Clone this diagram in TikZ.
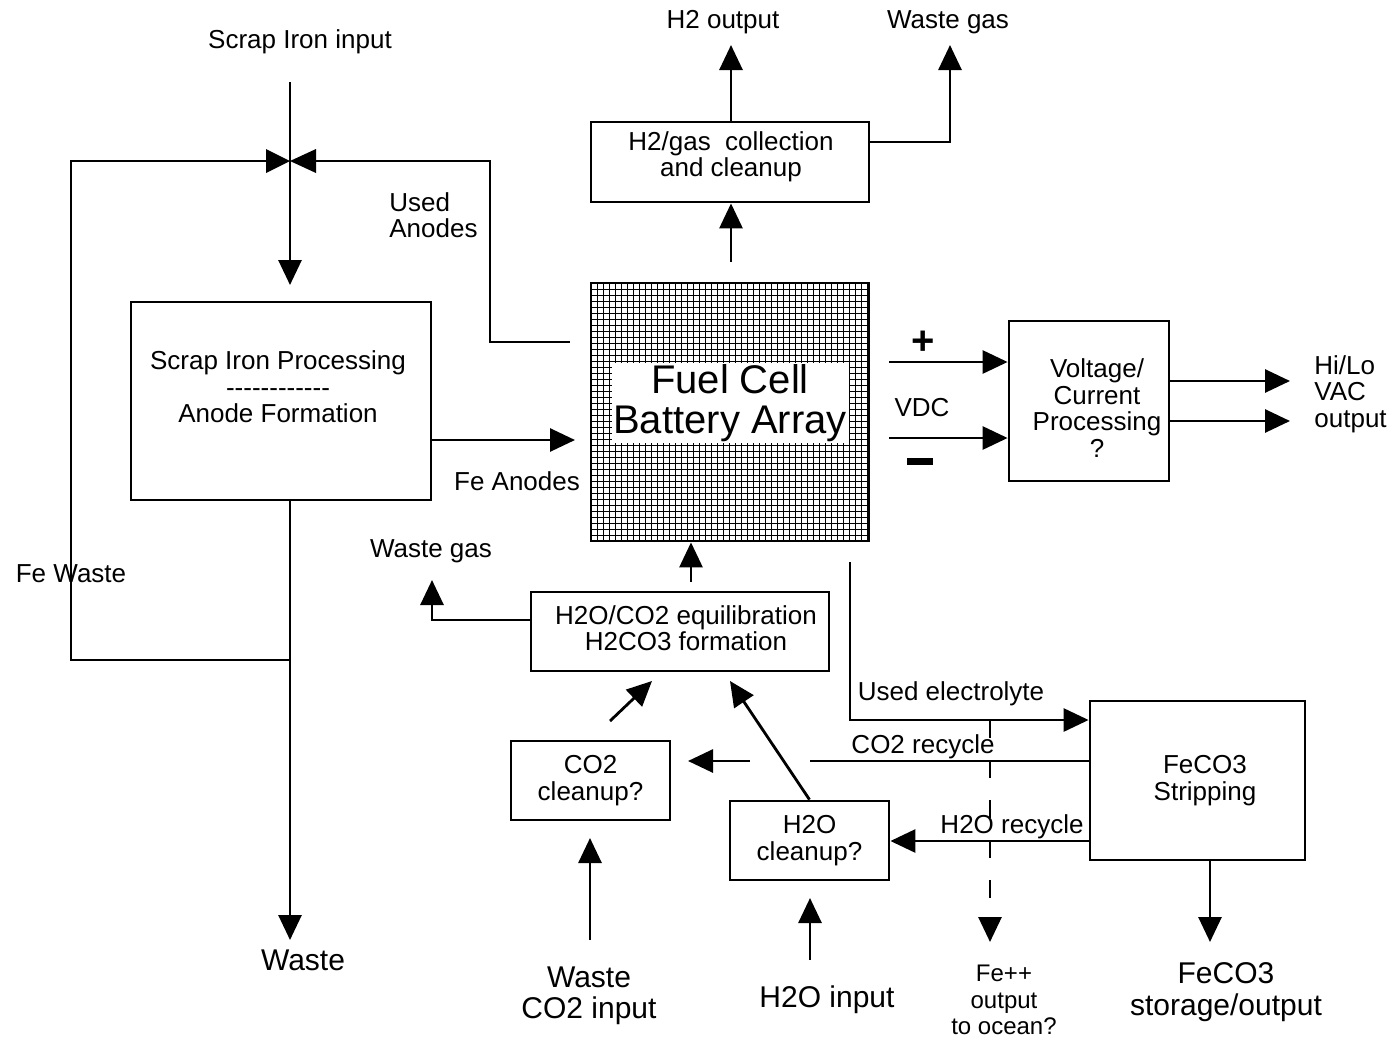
\documentclass[tikz,border=0pt]{standalone}
\usepackage{fontspec}
\setmainfont{Liberation Sans}
\usetikzlibrary{arrows.meta}
\newcommand\fsA{\fontsize{26}{26.5}\selectfont}
\newcommand\fsB{\fontsize{30}{31.5}\selectfont}
\newcommand\fsC{\fontsize{24}{26.5}\selectfont}
\newcommand\fsD{\fontsize{40}{40}\selectfont}
\begin{document}
\begin{tikzpicture}[x=1pt,y=-1pt,line width=2.8pt,
  box/.style={draw,line width=2.8pt,inner sep=0pt,align=center,font=\fsA},
  txt/.style={inner sep=0pt,align=center,font=\fsA},
  big/.style={inner sep=0pt,align=center,font=\fsB},
  arr/.style={-{Triangle[length=25pt,width=23pt]}},
  gridline/.style={line width=0.9pt}]
\useasboundingbox (0,0) rectangle (1395,1039);
\fill[white] (0,0) rectangle (1395,1039);

% ---- boxes ----
\node[box,minimum width=300pt,minimum height=198pt] (proc) at (281,401) {};
\node[txt] (proctxt) at (278,387) {Scrap Iron Processing\\-{}-{}-{}-{}-{}-{}-{}-{}-{}-{}-{}-\\Anode Formation};
\node[box,minimum width=278pt,minimum height=258pt] (fc) at (730,412) {};
\foreach \gx in {597,603,...,867} \draw[gridline] (\gx,283) -- (\gx,541);
\foreach \gy in {289,295,...,539} \draw[gridline] (591,\gy) -- (869,\gy);
\draw (591,283) rectangle (869,541);
\node[fill=white,inner sep=0pt,minimum width=237pt,minimum height=80pt,align=center,font=\fsD] (fctxt) at (730,403) {Fuel Cell\\Battery Array};
\node[box,minimum width=278pt,minimum height=80pt] (h2box) at (730,162) {};
\node[txt] (h2txt) at (731,157) {H2/gas\ \ collection\\and cleanup};
\node[box,minimum width=160pt,minimum height=160pt] (volt) at (1089,401) {};
\node[txt] (volttxt) at (1097,408) {Voltage/\\Current\\Processing\\?};
\node[box,minimum width=298pt,minimum height=79pt] (eq) at (680,631.5) {};
\node[txt] (eqtxt) at (686,628) {H2O/CO2 equilibration\\H2CO3 formation};
\node[box,minimum width=159pt,minimum height=79pt] (co2c) at (590.5,780.5) {CO2\\cleanup?};
\node[box,minimum width=159pt,minimum height=79pt] (h2oc) at (809.5,840.5) {H2O\\cleanup?};
\node[box,minimum width=215pt,minimum height=159pt] (strip) at (1197.5,780.5) {};
\node[txt] (striptxt) at (1205,780.5) {FeCO3\\Stripping};

% ---- labels ----
\node[txt] (lsin) at (300,42) {Scrap Iron input};
\node[txt,align=left,anchor=west] (lua) at (388,215) {Used\\Anodes};
\node[txt] (lfea) at (517,481) {Fe Anodes};
\node[txt] (lfew) at (71,574) {Fe Waste};
\node[big] (lwaste) at (303,960) {Waste};
\node[txt] (lh2o) at (723,22) {H2 output};
\node[txt] (lwg1) at (948,22) {Waste gas};
\node[inner sep=0pt,font=\fsD\bfseries] (lplus) at (923,343) {+};
\node[inner sep=0pt] (lminus) at (920,461) {\rule{26pt}{7pt}};
\node[txt] (lvdc) at (922,408) {VDC};
\node[txt,align=left,anchor=west] (lvac) at (1313,394) {Hi/Lo\\VAC\\output};
\node[txt] (lwg2) at (431,551) {Waste gas};
\node[txt] (lue) at (951,694) {Used electrolyte};
\node[txt] (lco2r) at (923,747) {CO2 recycle};
\node[txt] (lh2or) at (1012,827) {H2O recycle};
\node[big] (lco2in) at (589,996) {Waste\\CO2 input};
\node[big] (lh2oin) at (827,1000) {H2O input};
\node[inner sep=0pt,align=center,font=\fsC] (lfepp) at (1004,1000) {Fe++\\output\\ to ocean?};
\node[big] (lfeco3) at (1226,992) {FeCO3\\storage/output};

% ---- valve ----
\coordinate (valve) at (290,161);
\coordinate (vl) at (266,161);
\coordinate (vr) at (316,161);
\fill (266,149) -- (valve) -- (266,173) -- cycle;
\fill (316,149) -- (valve) -- (316,173) -- cycle;

% ---- connectors ----
\coordinate (sin) at (290,82);
\coordinate (sin1) at (290,285);
\draw[arr] (sin) -- (sin1);
\coordinate (wj) at (290,660);
\coordinate (wend) at (290,940);
\draw[arr] (proc.south -| wend) -- (wend);
\draw (vl) -- (71,161) -- (71,660) -- (wj);
\coordinate (ua) at (570,342);
\draw (ua) -- (490,342) -- (490,161) -- (vr);
\coordinate (fea1) at (575,440);
\draw[arr] (proc.east |- fea1) -- (fea1);

\coordinate (fctop) at (731,262);
\draw[arr] (fctop) -- (h2box.south -| fctop);
\coordinate (h2out) at (731,45);
\draw[arr] (h2box.north -| h2out) -- (h2out);
\coordinate (wgout) at (950,45);
\draw[arr] (h2box.east |- 0,142) -- (950,142) -- (wgout);

\coordinate (p0) at (889,362);
\draw[arr] (p0) -- (volt.west |- p0);
\coordinate (m0) at (889,438);
\draw[arr] (m0) -- (volt.west |- m0);
\coordinate (o1) at (1290,381);
\coordinate (o2) at (1290,421);
\draw[arr] (volt.east |- o1) -- (o1);
\draw[arr] (volt.east |- o2) -- (o2);

\coordinate (eqtop) at (691,582);
\draw[arr] (eqtop) -- (fc.south -| eqtop);
\coordinate (wg2) at (432,580);
\draw[arr] (eq.west |- 0,620) -- (432,620) -- (wg2);

\coordinate (ue0) at (850,562);
\draw[arr] (ue0) -- (850,720) -- (strip.west |- 0,720);
\coordinate (co2r) at (810,761);
\draw (strip.west |- co2r) -- (co2r);
\coordinate (co2r2) at (750,761);
\coordinate (co2r3) at (688,761);
\draw[arr] (co2r2) -- (co2r3);
\draw[arr] (strip.west |- 0,841) -- (h2oc.east |- 0,841);

\coordinate (d1) at (610,721);
\coordinate (d2) at (652,681);
\draw[arr] (d1) -- (d2);
\coordinate (d3) at (730,681);
\draw[arr] (h2oc.north) -- (d3);

\coordinate (co2in) at (590,940);
\draw[arr] (co2in) -- (590,838);
\coordinate (h2oin) at (810,960);
\draw[arr] (h2oin) -- (810,898);

\coordinate (fepp) at (990,942);
\draw[arr,dash pattern=on 18pt off 22pt] (990,720) -- (fepp);
\coordinate (fco) at (1210,942);
\draw[arr] (strip.south -| fco) -- (fco);
\end{tikzpicture}
\end{document}
